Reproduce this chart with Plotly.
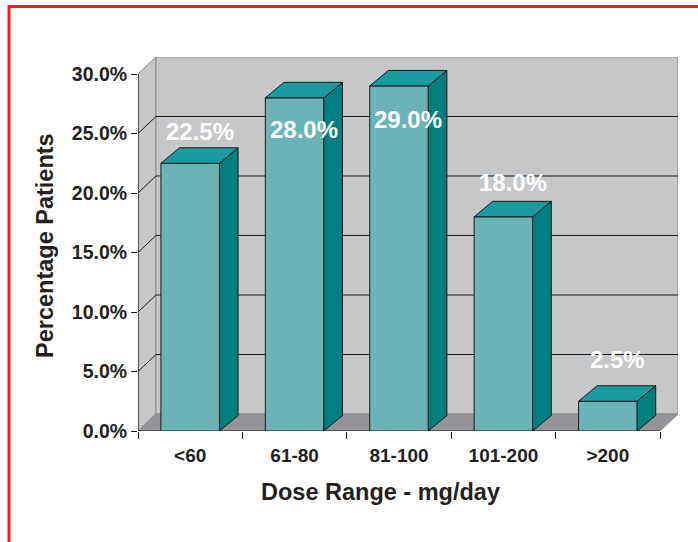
import plotly.graph_objects as go

# ---- data ----
categories = ["&lt;60", "61-80", "81-100", "101-200", "&gt;200"]
percent_patients = [22.5, 28.0, 29.0, 18.0, 2.5]
y_ticks = [0, 5, 10, 15, 20, 25, 30]
y_tick_labels = ["0.0%", "5.0%", "10.0%", "15.0%", "20.0%", "25.0%", "30.0%"]
x_title = "Dose Range - mg/day"
y_title = "Percentage Patients"

# ---- layout constants (not data) ----
label_y = [25.2, 25.3, 26.2, 20.9, 6.0]   # where Excel placed the value labels
WALL_DX, WALL_DY = 0.172, 1.43           # 3-D depth of the walls
BAR_DX, BAR_DY = 0.178, 1.3              # 3-D depth of the bars
BAR_W = 0.561
YMAX = 30

FRONT = "#6ab4b8"
TOP = "#1a9c9e"
SIDE = "#007f81"
WALL = "#c6c7c9"
FLOOR = "#939598"
BORDER = "#8a8a8c"
TXT = "#231f20"
FONT = "Liberation Sans, Arial"

n = len(categories)
xs = [i + 0.5 for i in range(n)]

fig = go.Figure()
fig.add_trace(go.Bar(
    x=xs, y=percent_patients, width=BAR_W,
    marker=dict(color=FRONT, line=dict(color="#1a1a1a", width=1)),
    hoverinfo="skip", showlegend=False,
))

shapes = []
# left wall
shapes.append(dict(type="path", layer="below",
                   path=f"M 0,0 L 0,{YMAX} L {WALL_DX},{YMAX+WALL_DY} L {WALL_DX},{WALL_DY} Z",
                   fillcolor=WALL, line=dict(color=BORDER, width=1)))
# back wall
shapes.append(dict(type="rect", layer="below", x0=WALL_DX, x1=n + WALL_DX,
                   y0=WALL_DY, y1=YMAX + WALL_DY, fillcolor=WALL,
                   line=dict(color=BORDER, width=1)))
# floor
shapes.append(dict(type="path", layer="below",
                   path=f"M 0,0 L {WALL_DX},{WALL_DY} L {n+WALL_DX},{WALL_DY} L {n},0 Z",
                   fillcolor=FLOOR, line=dict(color=BORDER, width=1)))
# gridlines
for v in y_ticks[1:-1]:
    shapes.append(dict(type="line", layer="below", x0=WALL_DX, x1=n + WALL_DX,
                       y0=v + WALL_DY, y1=v + WALL_DY, line=dict(color="#1a1a1a", width=1)))
    shapes.append(dict(type="line", layer="below", x0=0, x1=WALL_DX,
                       y0=v, y1=v + WALL_DY, line=dict(color="#1a1a1a", width=1)))
# axis lines
shapes.append(dict(type="line", layer="below", x0=0, x1=0, y0=0, y1=YMAX,
                   line=dict(color="#1a1a1a", width=1.2)))
shapes.append(dict(type="line", layer="below", x0=0, x1=n, y0=0, y1=0,
                   line=dict(color="#1a1a1a", width=1.2)))
# bar side + top faces
for x, v in zip(xs, percent_patients):
    xl, xr = x - BAR_W / 2, x + BAR_W / 2
    shapes.append(dict(type="path",
                       path=f"M {xr},0 L {xr+BAR_DX},{BAR_DY} L {xr+BAR_DX},{v+BAR_DY} L {xr},{v} Z",
                       fillcolor=SIDE, line=dict(color="#1a1a1a", width=1)))
    shapes.append(dict(type="path",
                       path=f"M {xl},{v} L {xl+BAR_DX},{v+BAR_DY} L {xr+BAR_DX},{v+BAR_DY} L {xr},{v} Z",
                       fillcolor=TOP, line=dict(color="#1a1a1a", width=1)))
# red frame
W, H = 698, 542
L, R, T, B = 138, 20, 57, 111
pw, ph = W - L - R, H - T - B
shapes.append(dict(type="rect", xref="paper", yref="paper",
                   x0=(9 - L) / pw, x1=(W + 20 - L) / pw,
                   y0=(H - B - (H + 20)) / ph, y1=(H - B - 6.5) / ph,
                   line=dict(color="#ed1c24", width=3), fillcolor="rgba(0,0,0,0)"))

annotations = []
for x, v, ly in zip(xs, percent_patients, label_y):
    annotations.append(dict(x=x + BAR_DX / 2, y=ly, text=f"{v:.1f}%", showarrow=False,
                            xanchor="center", yanchor="middle",
                            font=dict(family=FONT, size=24, color="white", weight="bold")))
annotations.append(dict(xref="paper", yref="paper", x=0, xshift=45 - L,
                        y=(H - B - 246) / ph, text=y_title, textangle=-90,
                        showarrow=False, xanchor="center", yanchor="middle",
                        font=dict(family=FONT, size=23.5, color=TXT, weight="bold")))
annotations.append(dict(xref="paper", yref="paper", x=(380.4 - L) / pw,
                        y=(H - B - 491.7) / ph, text=x_title,
                        showarrow=False, xanchor="center", yanchor="middle",
                        font=dict(family=FONT, size=23.5, color=TXT, weight="bold")))

fig.update_layout(
    width=W, height=H,
    margin=dict(l=L, r=R, t=T, b=B),
    paper_bgcolor="white", plot_bgcolor="white",
    shapes=shapes, annotations=annotations,
    xaxis=dict(range=[0, n + WALL_DX], tickvals=xs, ticktext=categories,
               ticks="", showgrid=False, zeroline=False, showline=False,
               ticklabelstandoff=11,
               tickfont=dict(family=FONT, size=19, color=TXT, weight="bold"),
               minor=dict(tickvals=list(range(n + 1)), ticks="outside",
                          ticklen=7, tickcolor="#1a1a1a", tickwidth=1.2,
                          showgrid=False)),
    yaxis=dict(range=[0, YMAX + WALL_DY], tickvals=y_ticks, ticktext=y_tick_labels,
               ticks="outside", ticklen=6, tickcolor="#1a1a1a", tickwidth=1.2,
               showgrid=False, zeroline=False, showline=False,
               ticklabelstandoff=0,
               tickfont=dict(family=FONT, size=19.5, color=TXT, weight="bold")),
)

fig.write_html("out.html", config={"displayModeBar": False},
               post_script="document.body.style.margin='0';document.body.style.overflow='hidden';")
